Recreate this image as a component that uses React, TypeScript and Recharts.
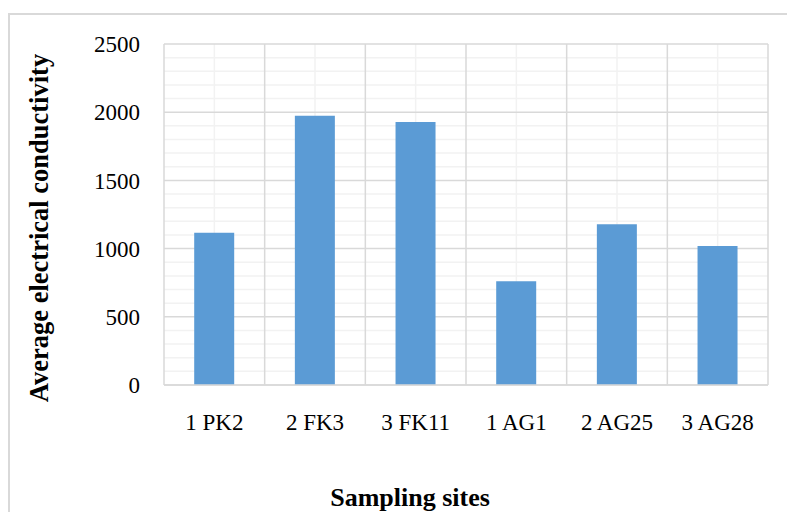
import React from "react";
import { BarChart, Bar, XAxis, YAxis, CartesianGrid, Label } from "recharts";

// Average electrical conductivity per sampling site
const sites = ["1 PK2", "2 FK3", "3 FK11", "1 AG1", "2 AG25", "3 AG28"];
const conductivity = [1117, 1974, 1928, 760, 1178, 1019];
const yTicks = [0, 500, 1000, 1500, 2000, 2500];
const minorTicks = [
  100, 200, 300, 400, 600, 700, 800, 900, 1100, 1200, 1300, 1400,
  1600, 1700, 1800, 1900, 2100, 2200, 2300, 2400,
];

const data = sites.map((site, i) => ({ site, value: conductivity[i] }));

const FONT = '"Liberation Serif", "Times New Roman", serif';
const MAJOR = "#d9d9d9";
const MINOR = "#f2f2f2";

const bandLines = (offset: any, centers: boolean) => {
  const step = offset.width / sites.length;
  const out: number[] = [];
  if (centers) {
    sites.forEach((_s, i) => out.push(offset.left + step * (i + 0.5)));
  } else {
    for (let i = 0; i <= sites.length; i++) out.push(offset.left + step * i);
  }
  return out;
};

export default function App() {
  return (
    <div
      style={{
        position: "fixed",
        left: 0,
        top: 0,
        width: 787,
        height: 512,
        overflow: "hidden",
        background: "#fff",
      }}
    >
      <div
        style={{
          position: "absolute",
          left: 8,
          top: 13,
          width: 900,
          height: 600,
          border: `2px solid ${MAJOR}`,
        }}
      />
      <div style={{ position: "absolute", left: 0, top: 0 }}>
        <BarChart
          width={787}
          height={512}
          data={data}
          margin={{ top: 44, right: 19, bottom: 97, left: 0 }}
          barCategoryGap="30%"
        >
          <CartesianGrid
            stroke={MINOR}
            strokeWidth={1.5}
            horizontalValues={minorTicks}
            verticalCoordinatesGenerator={({ offset }: any) => bandLines(offset, true)}
          />
          <CartesianGrid
            stroke={MAJOR}
            strokeWidth={1.5}
            horizontalValues={yTicks}
            verticalCoordinatesGenerator={({ offset }: any) => bandLines(offset, false)}
          />
          <XAxis
            dataKey="site"
            height={30}
            tickLine={false}
            tickSize={0}
            tickMargin={29}
            axisLine={{ stroke: MAJOR, strokeWidth: 1.5 }}
            tick={{ fill: "#000", fontSize: 23, fontFamily: FONT }}
          >
            <Label
              content={() => (
                <text
                  x={410}
                  y={506}
                  textAnchor="middle"
                  fontFamily={FONT}
                  fontSize={26}
                  fontWeight="bold"
                  fill="#000"
                >
                  Sampling sites
                </text>
              )}
            />
          </XAxis>
          <YAxis
            width={164}
            domain={[0, 2500]}
            ticks={yTicks}
            interval={0}
            tickLine={false}
            axisLine={false}
            tickSize={0}
            tickMargin={24}
            tick={{ fill: "#000", fontSize: 23, fontFamily: FONT }}
          >
            <Label
              content={() => (
                <text
                  x={0}
                  y={0}
                  transform="translate(48,228) rotate(-90)"
                  textAnchor="middle"
                  fontFamily={FONT}
                  fontSize={26.5}
                  fontWeight="bold"
                  fill="#000"
                >
                  Average electrical conductivity
                </text>
              )}
            />
          </YAxis>
          <Bar dataKey="value" fill="#5b9bd5" isAnimationActive={false} />
        </BarChart>
      </div>
    </div>
  );
}
